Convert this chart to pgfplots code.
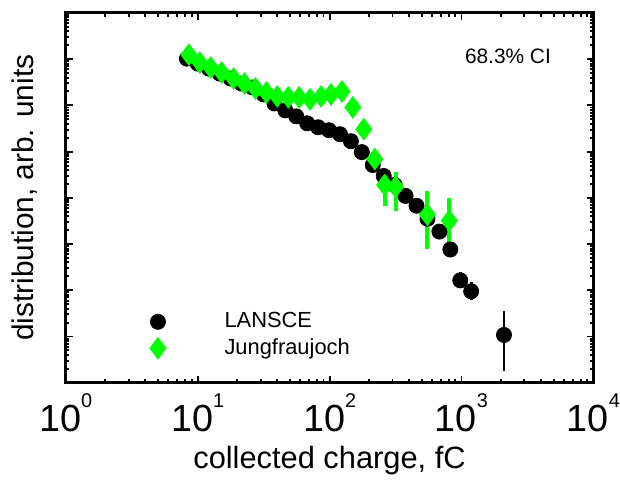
\documentclass[border=0pt]{standalone}
\usepackage{fontspec}
\setmainfont{Liberation Sans}
\usepackage{pgfplots}
\pgfplotsset{compat=1.18}
\definecolor{jgreen}{RGB}{0,255,0}
% tick label: 10 with a small raised exponent
\newcommand{\tl}[1]{10\raisebox{12pt}{\fontsize{10}{10}\selectfont #1}}

\begin{document}
\begin{tikzpicture}
\begin{axis}[
    scale only axis,
    width=265.5pt, height=186pt,
    xmode=log, ymode=log,
    xmin=1, xmax=1e4, ymin=1, ymax=1e8,
    xtick={1,10,100,1000,10000},
    xticklabels={\tl{0},\tl{1},\tl{2},\tl{3},\tl{4}},
    ytick={1,10,100,1000,1e4,1e5,1e6,1e7,1e8},
    yticklabels={},
    xticklabel style={font=\fontsize{19}{19}\selectfont, inner xsep=0pt, yshift=-2pt},
    axis line style={line width=1.5pt},
    tick style={black, line width=1pt},
    major tick length=3.5pt, minor tick length=1.8pt,
    xlabel={collected charge, fC},
    ylabel={distribution, arb. units},
    xlabel style={font=\fontsize{15.5}{15.5}\selectfont, yshift=-0.5pt},
    ylabel style={font=\fontsize{15}{15}\selectfont, yshift=4pt},
    clip=false,
    legend style={draw=none, fill=none, font=\fontsize{11}{13}\selectfont,
        at={(rel axis cs:0.13,0.212)}, anchor=north west},
    legend cell align=left,
    legend image code/.code={\path (-0.3cm,0) (1.1cm,0);
        \draw[#1] plot coordinates {(0cm,0cm)};},
]
\addplot[only marks, mark=*, mark size=3.8pt, black,
    error bars/.cd, y dir=both, y explicit,
    error mark=none, error bar style={line width=1.5pt, black}]
coordinates {
    (8.30,1.026e7)
    (10.04,8.0e6)
    (12.15,6.25e6)
    (14.71,4.88e6)
    (17.80,3.81e6)
    (21.54,2.97e6)
    (26.08,2.44e6)
    (31.56,1.73e6)
    (38.19,1.10e6)
    (46.22,7.80e5)
    (55.93,5.80e5)
    (67.69,4.10e5)
    (81.92,3.36e5)
    (99.1,2.90e5)
    (120.0,2.38e5)
    (145.2,1.68e5)
    (175.7,9.75e4)
    (212.7,5.13e4)
    (257.3,2.97e4)
    (311.5,1.90e4)
    (376.9,1.10e4)
    (456.1,6.73e3)
    (552.1,3.53e3)
    (679.8,1.86e3)
    (823,762)
    (978.6,164) += (0,80) -= (0,54)
    (1184,95.1) += (0,54) -= (0,34)
    (2099,10.8) += (0,24.5) -= (0,9.0)
};
\addlegendentry{LANSCE}
\addplot[only marks, mark=diamond*, mark size=5.4pt, jgreen,
    mark options={fill=jgreen, draw=jgreen},
    error bars/.cd, y dir=both, y explicit,
    error mark=none, error bar style={line width=2pt, jgreen}]
coordinates {
    (8.59,1.25e7)
    (10.4,8.41e6)
    (12.58,6.56e6)
    (15.23,5.13e6)
    (18.75,3.81e6)
    (22.69,2.97e6)
    (27.47,2.32e6)
    (33.24,1.90e6)
    (40.22,1.56e6)
    (48.68,1.49e6)
    (58.9,1.49e6)
    (71.3,1.35e6)
    (86.3,1.56e6)
    (102.6,1.73e6)
    (124.2,2.00e6)
    (150.3,9.06e5)
    (181.9,3.05e5)
    (220.1,6.90e4)
    (261.8,1.90e4) += (0,1.91e4) -= (0,1.227e4)
    (316.8,1.72e4) += (0,1.90e4) -= (0,1.195e4)
    (552,4.31e3) += (0,9.79e3) -= (0,3.51e3)
    (808,3.20e3) += (0,6.8e3) -= (0,2.66e3)
};
\addlegendentry{Jungfraujoch}
\node[font=\fontsize{10.5}{12}\selectfont] at (rel axis cs:0.838,0.882) {68.3\% CI};
\path (rel axis cs:-0.1243,1.035) (rel axis cs:1.0433,-0.266);
\end{axis}
\end{tikzpicture}
\end{document}
